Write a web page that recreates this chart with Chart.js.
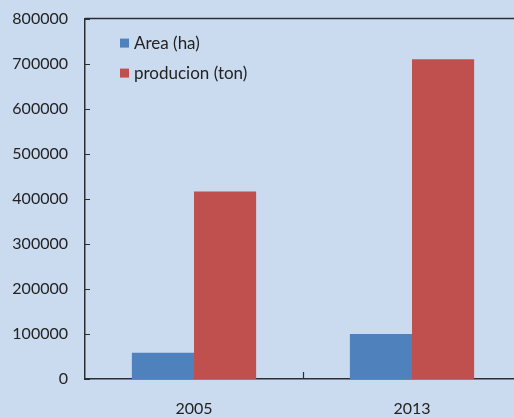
<!DOCTYPE html>
<html>
<head>
<meta charset="utf-8">
<script src="https://cdn.jsdelivr.net/npm/chart.js@4/dist/chart.umd.min.js"></script>
<style>
  html, body { margin: 0; padding: 0; background: #cbdbef; overflow: hidden; }
  #wrap { width: 530px; height: 418px; }
</style>
</head>
<body>
<div id="wrap"><canvas id="c" width="530" height="418"></canvas></div>
<script>
const years = ['2005', '2013'];
const areaHa = [58000, 100000];
const productionTon = [416000, 710000];
const yTicks = [0, 100000, 200000, 300000, 400000, 500000, 600000, 700000, 800000];

const FONT = 'Lato, "Open Sans", sans-serif';
const INK = '#222';

// Frame line along the top, small inward ticks, and the in-plot legend
const frameAndLegend = {
  id: 'frameAndLegend',
  afterDatasetsDraw(chart) {
    const { ctx, chartArea: a, scales } = chart;
    ctx.save();
    ctx.strokeStyle = '#2b2f33';
    ctx.lineWidth = 1.5;
    ctx.beginPath();
    ctx.moveTo(a.left, a.top);
    ctx.lineTo(a.right, a.top);
    ctx.stroke();

    ctx.lineWidth = 1.2;
    ctx.beginPath();
    yTicks.forEach(v => {
      const y = Math.round(scales.y.getPixelForValue(v)) + 0.5;
      ctx.moveTo(a.left, y);
      ctx.lineTo(a.left + 5, y);
    });
    for (let i = 0; i < years.length - 1; i++) {
      const x = Math.round((scales.x.getPixelForValue(i) + scales.x.getPixelForValue(i + 1)) / 2) + 0.5;
      ctx.moveTo(x, a.bottom);
      ctx.lineTo(x, a.bottom - 7);
    }
    ctx.stroke();

    ctx.font = '17px ' + FONT;
    ctx.textBaseline = 'middle';
    chart.data.datasets.forEach((ds, i) => {
      const y = a.top + 25 + i * 30;
      ctx.fillStyle = ds.backgroundColor;
      ctx.fillRect(a.left + 35, y - 5, 9, 9);
      ctx.fillStyle = INK;
      ctx.fillText(ds.label, a.left + 49, y);
    });
    ctx.restore();
  }
};

new Chart(document.getElementById('c'), {
  type: 'bar',
  data: {
    labels: years,
    datasets: [
      { label: 'Area (ha)', data: areaHa, backgroundColor: '#4f81bd' },
      { label: 'producion (ton)', data: productionTon, backgroundColor: '#c0504d' }
    ]
  },
  options: {
    responsive: false,
    animation: false,
    devicePixelRatio: 1,
    layout: { padding: { top: 14, left: 0, right: 9, bottom: 0 } },
    datasets: { bar: { categoryPercentage: 0.57, barPercentage: 1.0 } },
    plugins: { legend: { display: false }, tooltip: { enabled: false } },
    scales: {
      x: {
        grid: { display: false },
        border: { display: true, color: '#2b2f33', width: 1.5 },
        ticks: { color: INK, font: { family: FONT, size: 16 }, padding: 12 },
        afterFit(s) { s.height = 39; }
      },
      y: {
        min: 0, max: 800000,
        grid: { display: false },
        border: { display: true, color: '#2b2f33', width: 1.5 },
        ticks: {
          stepSize: 100000, color: INK, font: { family: FONT, size: 16 }, padding: 9,
          callback: v => String(v)
        },
        afterFit(s) { s.width = 85; }
      }
    }
  },
  plugins: [frameAndLegend]
});
</script>
</body>
</html>
